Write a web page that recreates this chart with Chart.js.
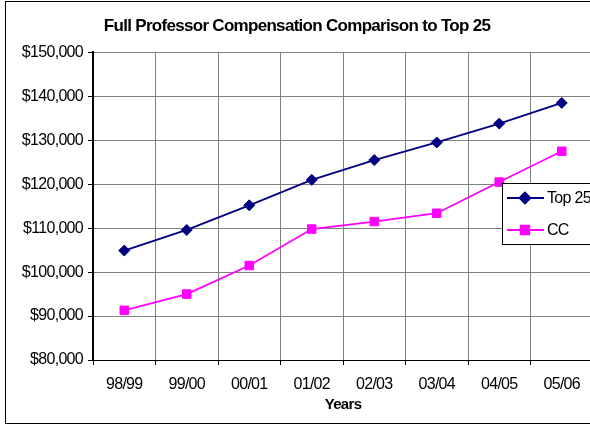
<!DOCTYPE HTML>
<html lang="en">
<head>
    <meta charset="UTF-8">
    <title>Full Professor Compensation</title>
    <script src="https://cdn.jsdelivr.net/npm/chart.js"></script>
    <style>
        html, body {
            margin: 0;
            padding: 0;
            background: #fff;
            overflow: hidden;
        }
        #wrap {
            width: 600px;
            height: 425px;
        }
    </style>
</head>
<body>
<div id="wrap">
    <canvas id="salaryChart" width="600" height="425"></canvas>
</div>
<script>
    // Учебные годы
    var years = ['98/99', '99/00', '00/01', '01/02', '02/03', '03/04', '04/05', '05/06'];
    // Средняя зарплата профессора, топ-25
    var top25 = [104900, 109600, 115200, 121000, 125500, 129500, 133800, 138500];
    // Средняя зарплата профессора, CC
    var cc = [91300, 95000, 101500, 109800, 111500, 113400, 120500, 127500];
    // Деления оси Y
    var yTicks = [80000, 90000, 100000, 110000, 120000, 130000, 140000, 150000];

    var FONT = "'Liberation Sans', Arial, sans-serif";

    // Узкий шрифт, как в Excel
    var spacingPlugin = {
        id: 'spacing',
        beforeLayout: function (chart) { chart.ctx.letterSpacing = '-0.7px'; },
        beforeDraw: function (chart) { chart.ctx.letterSpacing = '-0.7px'; }
    };

    // Рамка вокруг графика и легенда внутри области графика
    var framePlugin = {
        id: 'frame',
        afterDraw: function (chart) {
            var ctx = chart.ctx;
            ctx.save();
            ctx.strokeStyle = '#000';
            ctx.lineWidth = 1;
            ctx.strokeRect(5.5, 1.5, 592, 422);

            // легенда
            var bx = 502.5, by = 183.5, bw = 100, bh = 61;
            ctx.fillStyle = '#fff';
            ctx.fillRect(bx, by, bw, bh);
            ctx.strokeRect(bx, by, bw, bh);

            var rows = [198, 230];
            chart.data.datasets.forEach(function (ds, i) {
                var y = rows[i];
                ctx.strokeStyle = ds.borderColor;
                ctx.lineWidth = ds.borderWidth;
                ctx.beginPath();
                ctx.moveTo(507, y);
                ctx.lineTo(544, y);
                ctx.stroke();
                ctx.fillStyle = ds.backgroundColor;
                Chart.helpers.drawPoint(ctx, {
                    pointStyle: ds.pointStyle,
                    radius: ds.pointRadius,
                    rotation: 0,
                    borderWidth: 1
                }, 525, y);
                ctx.fillStyle = '#000';
                ctx.font = '16px ' + FONT;
                ctx.letterSpacing = '-0.7px';
                ctx.textBaseline = 'middle';
                ctx.textAlign = 'left';
                ctx.fillText(ds.label, 547, y + 1);
            });
            ctx.restore();
        }
    };

    var ctx = document.getElementById('salaryChart').getContext('2d');
    var salaryChart = new Chart(ctx, {
        type: 'line',
        data: {
            labels: years,
            datasets: [
                {
                    label: 'Top 25',
                    data: top25,
                    borderColor: '#000080',
                    backgroundColor: '#000080',
                    borderWidth: 1.8,
                    pointStyle: 'rectRot',
                    pointRadius: 5.5,
                    pointBorderWidth: 1,
                    tension: 0
                },
                {
                    label: 'CC',
                    data: cc,
                    borderColor: '#ff00ff',
                    backgroundColor: '#ff00ff',
                    borderWidth: 1.8,
                    pointStyle: 'rect',
                    pointRadius: 6,
                    pointBorderWidth: 1,
                    tension: 0
                }
            ]
        },
        options: {
            responsive: false,
            animation: false,
            layout: {
                padding: { top: 0, left: 0, right: 6, bottom: 11 }
            },
            plugins: {
                legend: { display: false },
                tooltip: { enabled: false },
                title: {
                    display: true,
                    text: 'Full Professor Compensation Comparison to Top 25',
                    color: '#000',
                    font: { family: FONT, size: 17, weight: 'bold' },
                    padding: { top: 16, bottom: 16 }
                }
            },
            scales: {
                x: {
                    offset: true,
                    afterFit: function (scale) {
                        scale.height = 54;
                    },
                    grid: {
                        offset: true,
                        color: '#808080',
                        lineWidth: 1,
                        tickLength: 5,
                        tickColor: '#000'
                    },
                    border: { color: '#000', width: 1 },
                    ticks: {
                        color: '#000',
                        font: { family: FONT, size: 16 },
                        padding: 10,
                        maxRotation: 0
                    },
                    title: {
                        display: true,
                        text: 'Years',
                        color: '#000',
                        font: { family: FONT, size: 15, weight: 'bold' },
                        padding: { top: 0, bottom: 0 }
                    }
                },
                y: {
                    min: yTicks[0],
                    max: yTicks[yTicks.length - 1],
                    afterBuildTicks: function (scale) {
                        scale.ticks = yTicks.map(function (v) { return { value: v }; });
                    },
                    afterFit: function (scale) {
                        scale.width = 93;
                    },
                    grid: {
                        color: '#808080',
                        lineWidth: 1,
                        tickLength: 5,
                        tickColor: '#000'
                    },
                    border: { color: '#000', width: 2 },
                    ticks: {
                        color: '#000',
                        font: { family: FONT, size: 16 },
                        padding: 5,
                        callback: function (value) {
                            return '$' + value.toLocaleString('en-US');
                        }
                    }
                }
            }
        },
        plugins: [spacingPlugin, framePlugin]
    });
</script>
</body>
</html>
